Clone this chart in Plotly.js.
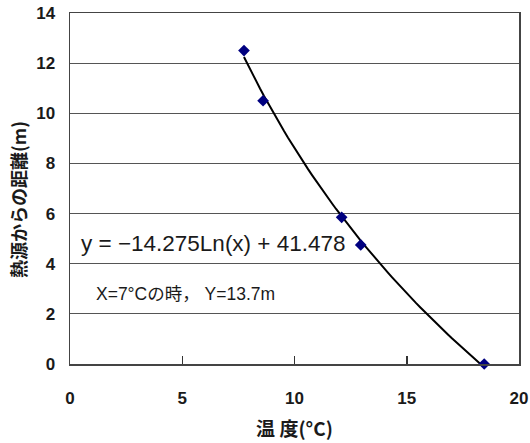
<!DOCTYPE html>
<html>
<head>
<meta charset="utf-8">
<script src="https://cdn.plot.ly/plotly-3.0.1.min.js"></script>
<style>
  html, body { margin: 0; padding: 0; background: #fff; }
  #chart { width: 530px; height: 443px; }
</style>
</head>
<body>
<div id="chart"></div>
<script>
// Measured temperature (°C) and distance from the heat source (m)
const temperature = [7.75, 8.6, 12.1, 12.95, 18.45];
const distance = [12.5, 10.5, 5.85, 4.75, 0.0];

// Logarithmic fit: y = a·ln(x) + b
const fitA = -14.275;
const fitB = 41.478;

const xTicks = [0, 5, 10, 15, 20];
const yTicks = [0, 2, 4, 6, 8, 10, 12, 14];

// Trend curve sampled over the measured temperature span
const xMin = Math.min(...temperature);
const xMax = Math.max(...temperature);
const fitX = [];
const fitY = [];
const steps = 60;
for (let i = 0; i <= steps; i++) {
  const x = xMin + (xMax - xMin) * i / steps;
  fitX.push(x);
  fitY.push(fitA * Math.log(x) + fitB);
}

const jp = '"Noto Sans CJK JP", sans-serif';
const latin = '"Liberation Sans", Arial, sans-serif';
const mixed = '"Liberation Sans", "Noto Sans CJK JP", sans-serif';

const traces = [
  {
    x: fitX, y: fitY, type: 'scatter', mode: 'lines',
    line: { color: '#000000', width: 2 },
    hoverinfo: 'skip', showlegend: false
  },
  {
    x: temperature, y: distance, type: 'scatter', mode: 'markers',
    marker: { symbol: 'diamond', size: 9, color: '#000080' },
    showlegend: false, cliponaxis: false
  }
];

const layout = {
  width: 530, height: 443,
  margin: { l: 70, r: 11, t: 13, b: 79 },
  paper_bgcolor: '#ffffff',
  plot_bgcolor: '#ffffff',
  showlegend: false,
  xaxis: {
    range: [0, 20], tickvals: xTicks, ticktext: xTicks.map(String),
    ticks: 'inside', ticklen: 8, tickcolor: '#333333', tickwidth: 1.5,
    showgrid: false, zeroline: false,
    showline: true, linecolor: '#444444', linewidth: 1.5, mirror: true,
    tickfont: { family: latin, size: 17, color: '#1a1a1a', weight: 'bold' },
    ticklabelstandoff: 18,
    title: { text: '温 度(°C)', font: { family: jp, size: 19, color: '#1a1a1a', weight: 'bold' }, standoff: 16 },
    automargin: false, fixedrange: true
  },
  yaxis: {
    range: [0, 14], tickvals: yTicks, ticktext: yTicks.map(String),
    ticks: '', showgrid: true, gridcolor: '#555555', gridwidth: 1.2,
    zeroline: false,
    showline: true, linecolor: '#444444', linewidth: 1.5, mirror: true,
    tickfont: { family: latin, size: 17, color: '#1a1a1a', weight: 'bold' },
    ticklabelstandoff: 10,
    automargin: false, fixedrange: true
  },
  annotations: [
    {
      // vertical y-axis title, sitting slightly below the plot's midline
      xref: 'paper', yref: 'paper', x: -0.116, y: 0.47,
      xanchor: 'center', yanchor: 'middle', showarrow: false,
      textangle: -90,
      text: '熱源からの距離(m)',
      font: { family: jp, size: 18, color: '#1a1a1a', weight: 'bold' }
    },
    {
      xref: 'paper', yref: 'paper', x: 0.02, y: 0.342,
      xanchor: 'left', yanchor: 'middle', showarrow: false,
      text: 'y = −14.275Ln(x) + 41.478',
      font: { family: latin, size: 22.5, color: '#1a1a1a' },
      bgcolor: '#ffffff'
    },
    {
      xref: 'paper', yref: 'paper', x: 0.053, y: 0.199,
      xanchor: 'left', yanchor: 'middle', showarrow: false,
      text: 'X=7°Cの時， Y=13.7m',
      font: { family: mixed, size: 17.5, color: '#1a1a1a' }
    }
  ]
};

Plotly.newPlot('chart', traces, layout, { displayModeBar: false, staticPlot: true });
</script>
</body>
</html>
